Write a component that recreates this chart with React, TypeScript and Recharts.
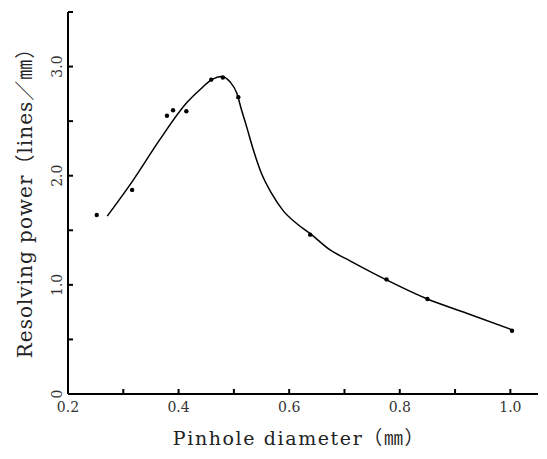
import { ComposedChart, Line, Scatter, XAxis, YAxis } from 'recharts'

// measured dots
const pointX = [0.252, 0.316, 0.379, 0.39, 0.414, 0.459, 0.48, 0.508, 0.638, 0.776, 0.85, 1.003]
const pointY = [1.64, 1.87, 2.55, 2.6, 2.59, 2.88, 2.9, 2.72, 1.46, 1.05, 0.87, 0.58]

// fitted curve
const curveX = [0.271, 0.318, 0.366, 0.415, 0.439, 0.46, 0.478, 0.493, 0.505, 0.514, 0.523, 0.535, 0.55, 0.568, 0.589, 0.614, 0.638, 0.674, 0.71, 0.776, 0.85, 0.921, 1.002]
const curveY = [1.63, 1.96, 2.33, 2.67, 2.79, 2.88, 2.91, 2.86, 2.76, 2.6, 2.45, 2.24, 2.02, 1.84, 1.68, 1.56, 1.47, 1.32, 1.22, 1.045, 0.87, 0.74, 0.59]

const xTicks = [0.2, 0.3, 0.4, 0.5, 0.6, 0.7, 0.8, 0.9, 1.0]
const yTicks = [0, 0.5, 1, 1.5, 2, 2.5, 3, 3.5]
const yLabels: Record<string, string> = { '0': '0', '1': '1.0', '2': '2.0', '3': '3.0' }

const FONT = '"DejaVu Serif", "Liberation Serif", "Noto Sans CJK JP", serif'
const TICK = 5 // inward tick length

const points = pointX.map((x, i) => ({ x, y: pointY[i] }))
const curve = curveX.map((x, i) => ({ x, y: curveY[i] }))

// with tickSize=-TICK and tickMargin=0 the tick anchor sits TICK px inside the axis
function XTick(props: any) {
  const { x, y, payload } = props
  const v = payload.value
  if (Math.round(v * 10) % 2 !== 0) return <g />
  return (
    <text x={x} y={y + TICK + 18} textAnchor="middle" fontFamily={FONT} fontSize={14} fill="#333">
      {v.toFixed(1)}
    </text>
  )
}

function YTick(props: any) {
  const { x, y, payload } = props
  const label = yLabels[String(payload.value)]
  if (!label) return <g />
  const lx = x - TICK - 11
  return (
    <text
      x={lx}
      y={y}
      textAnchor="middle"
      dominantBaseline="central"
      transform={`rotate(-90 ${lx} ${y})`}
      fontFamily={FONT}
      fontSize={14}
      fill="#333"
    >
      {label}
    </text>
  )
}

export default function App() {
  return (
    <div style={{ position: 'fixed', top: 0, left: 0, background: '#fff' }}>
      <ComposedChart width={547} height={459} margin={{ top: 12, right: 9, bottom: 0, left: 8 }}>
        <XAxis
          type="number"
          dataKey="x"
          domain={[0.2, 1.05]}
          ticks={xTicks}
          tick={<XTick />}
          tickLine={{ stroke: '#000', strokeWidth: 2 }}
          tickSize={-TICK}
          tickMargin={0}
          height={65}
          axisLine={{ stroke: '#000', strokeWidth: 2 }}
          allowDataOverflow
        />
        <YAxis
          type="number"
          dataKey="y"
          domain={[0, 3.5]}
          ticks={yTicks}
          tick={<YTick />}
          tickLine={{ stroke: '#000', strokeWidth: 2 }}
          tickSize={-TICK}
          tickMargin={0}
          width={60}
          axisLine={{ stroke: '#000', strokeWidth: 2 }}
          allowDataOverflow
        />
        <Line
          data={curve}
          dataKey="y"
          type="monotone"
          stroke="#000"
          strokeWidth={1.5}
          dot={false}
          activeDot={false}
          isAnimationActive={false}
        />
        <Scatter
          data={points}
          dataKey="y"
          fill="#000"
          isAnimationActive={false}
          shape={(p: any) => <circle cx={p.cx} cy={p.cy} r={2.2} fill="#000" />}
        />
      </ComposedChart>
      <div
        style={{
          position: 'absolute',
          left: 299,
          top: 436,
          transform: 'translate(-50%, -50%)',
          fontFamily: FONT,
          fontSize: 19,
          color: '#222',
          whiteSpace: 'nowrap',
          letterSpacing: 1.6,
        }}
      >
        Pinhole diameter（㎜）
      </div>
      <div
        style={{
          position: 'absolute',
          left: 23,
          top: 198,
          transform: 'translate(-50%, -50%) rotate(-90deg)',
          fontFamily: FONT,
          fontSize: 20,
          color: '#222',
          whiteSpace: 'nowrap',
          letterSpacing: 1,
        }}
      >
        Resolving power（lines／㎜）
      </div>
    </div>
  )
}
